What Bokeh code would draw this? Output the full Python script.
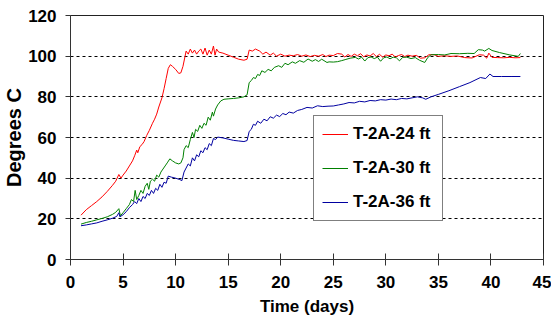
from bokeh.plotting import figure
from bokeh.models import Range1d, Legend, LegendItem
from bokeh.embed import file_html
from bokeh.resources import INLINE

red_day = [1.0, 1.5, 2.0, 2.5, 3.0, 3.5, 4.0, 4.3, 4.6, 4.8, 5.0, 5.3, 5.6, 5.9, 6.1, 6.3, 6.4, 6.6, 6.8, 7.0,
           7.25, 7.5, 7.8, 8.0, 8.2, 8.4, 8.7, 8.9, 9.1, 9.3, 9.5, 9.7, 10.0, 10.3, 10.5, 10.7, 10.9, 11.0, 11.2, 11.4,
           11.6, 11.8, 12.0, 12.2, 12.4, 12.6, 12.8, 13.0, 13.2, 13.4, 13.6, 13.75, 13.9, 14.1, 14.5, 15.0, 15.5, 16.0, 16.5, 16.8,
           17.0, 17.3, 17.6, 18.0, 18.3, 18.6, 19.0, 19.3, 19.6, 20.0, 20.4, 20.8, 21.2, 21.6, 22.0, 22.4, 22.8, 23.2, 23.6, 24.0,
           24.3, 24.6, 25.0, 25.4, 25.8, 26.1, 26.4, 26.7, 27.0, 27.3, 27.6, 27.9, 28.2, 28.5, 28.8, 29.1, 29.4, 29.7, 30.0, 30.3,
           30.6, 30.9, 31.2, 31.5, 31.8, 32.1, 32.5, 32.9, 33.3, 33.7, 34.1, 34.6, 35.0, 35.6, 36.2, 36.8, 37.5, 38.2, 38.9, 39.3,
           39.6, 39.8, 40.1, 40.6, 41.2, 41.8, 42.3, 42.8]
red_temp = [21.8, 24.5, 26.5, 28.5, 30.8, 33.5, 36.5, 38.5, 41.8, 40.0, 41.5, 43.5, 46.0, 48.5, 51.0, 53.8, 52.5, 55.5, 56.5, 58.0,
            61.0, 63.5, 67.0, 69.0, 71.5, 75.0, 79.5, 84.0, 89.0, 94.0, 95.8, 95.0, 93.5, 91.5, 91.8, 95.0, 100.0, 102.5, 101.0, 103.5,
            101.5, 103.0, 101.0, 102.5, 103.5, 101.0, 104.0, 100.5, 103.0, 101.0, 105.0, 100.5, 103.5, 102.0, 101.5, 100.5, 99.5, 98.5, 98.0, 98.5,
            103.0, 102.5, 103.5, 102.5, 101.0, 102.0, 100.5, 101.5, 100.0, 101.0, 100.0, 100.5, 100.2, 100.8, 100.0, 100.6, 99.8, 100.4, 100.0, 100.8,
            99.8, 100.5, 100.3, 101.3, 101.0, 99.6, 100.8, 99.9, 101.0, 100.2, 101.2, 99.7, 100.6, 100.1, 101.3, 99.8, 100.9, 99.5, 100.6, 100.2,
            101.0, 99.6, 100.3, 100.8, 99.8, 100.5, 100.0, 100.4, 99.0, 99.2, 100.7, 100.7, 99.9, 100.2, 99.9, 100.1, 99.3, 99.1, 100.7, 100.5,
            99.0, 101.5, 99.4, 99.3, 99.2, 99.4, 99.2, 99.3]

green_day = [1.0, 1.5, 2.0, 2.5, 3.0, 3.5, 4.0, 4.3, 4.6, 4.75, 5.0, 5.3, 5.6, 5.8, 6.0, 6.15, 6.3, 6.5, 6.7, 6.9,
             7.1, 7.3, 7.45, 7.6, 7.8, 8.0, 8.2, 8.4, 8.6, 8.8, 9.0, 9.2, 9.45, 9.7, 10.0, 10.3, 10.5, 10.7, 10.8, 11.0,
             11.2, 11.4, 11.6, 11.75, 11.9, 12.1, 12.3, 12.5, 12.7, 12.9, 13.1, 13.3, 13.5, 13.6, 13.8, 14.0, 14.3, 14.6, 15.0, 15.5,
             16.0, 16.5, 16.8, 17.0, 17.2, 17.4, 17.6, 17.8, 18.0, 18.2, 18.5, 18.8, 19.1, 19.4, 19.8, 20.1, 20.4, 20.7, 21.1, 21.4,
             21.8, 22.2, 22.6, 23.0, 23.3, 23.6, 23.9, 24.4, 24.6, 25.0, 25.4, 25.8, 26.2, 26.6, 27.1, 27.4, 27.7, 28.0, 28.3, 28.6,
             28.9, 29.2, 29.5, 29.8, 30.1, 30.4, 30.7, 31.0, 31.3, 31.6, 32.0, 32.4, 32.8, 33.2, 33.7, 34.0, 34.3, 35.0, 35.6, 36.2,
             37.0, 37.8, 38.4, 38.8, 39.2, 39.4, 39.8, 40.1, 40.8, 41.8, 42.6, 42.8]
green_temp = [17.4, 18.2, 18.8, 19.5, 20.2, 21.0, 22.2, 23.2, 25.0, 21.5, 23.0, 25.0, 27.0, 29.5, 28.5, 34.0, 29.5, 31.5, 34.0, 32.5,
              36.0, 37.5, 34.5, 38.5, 39.5, 38.5, 41.5, 40.5, 43.0, 44.5, 46.0, 47.5, 49.5, 48.5, 47.5, 47.0, 47.5, 50.0, 54.0, 56.0,
              55.0, 59.0, 62.5, 60.0, 64.0, 63.0, 66.0, 64.5, 67.0, 66.0, 70.0, 68.5, 72.5, 70.5, 74.0, 76.0, 78.0, 78.8, 79.0, 79.2,
              79.5, 80.0, 81.0, 87.0, 88.0, 89.5, 89.0, 91.0, 90.5, 92.8, 92.0, 93.5, 92.8, 94.5, 95.3, 94.5, 96.5, 95.8, 97.2, 96.5,
              97.8, 97.0, 98.6, 97.5, 98.3, 97.4, 98.5, 96.9, 97.2, 97.1, 97.3, 97.8, 98.4, 99.0, 99.4, 98.6, 99.5, 97.6, 99.3, 99.6,
              98.8, 99.5, 97.5, 99.2, 99.6, 98.7, 99.5, 99.2, 97.7, 99.4, 99.5, 98.8, 99.3, 98.0, 96.9, 99.4, 100.7, 100.8, 100.6, 101.3,
              101.2, 101.4, 101.3, 103.2, 103.0, 102.5, 103.8, 102.8, 101.8, 100.6, 99.9, 101.3]

blue_day = [1.0, 1.5, 2.0, 2.5, 3.0, 3.5, 4.0, 4.4, 4.6, 4.7, 5.0, 5.3, 5.6, 5.9, 6.1, 6.3, 6.5, 6.7, 6.9, 7.1,
            7.3, 7.5, 7.7, 7.9, 8.1, 8.3, 8.5, 8.7, 8.9, 9.1, 9.3, 9.6, 10.0, 10.4, 10.6, 10.8, 11.0, 11.2, 11.4, 11.6,
            11.8, 12.0, 12.2, 12.4, 12.6, 12.8, 13.0, 13.2, 13.4, 13.6, 13.8, 14.0, 14.5, 15.0, 15.5, 16.0, 16.5, 16.8, 17.0, 17.2,
            17.4, 17.6, 17.8, 18.1, 18.4, 18.7, 19.0, 19.3, 19.6, 19.9, 20.2, 20.5, 20.8, 21.2, 21.6, 22.0, 22.5, 23.0, 23.5, 24.0,
            24.5, 25.0, 25.5, 26.0, 26.5, 27.0, 27.5, 28.0, 28.5, 29.0, 29.5, 30.0, 30.5, 31.0, 31.5, 32.0, 32.5, 33.0, 33.5, 33.8,
            34.3, 35.0, 36.0, 37.0, 38.0, 39.0, 39.5, 39.9, 40.2, 41.0, 42.0, 42.8]
blue_temp = [16.6, 17.0, 17.5, 18.0, 18.8, 19.5, 20.3, 21.2, 23.0, 21.0, 22.0, 23.5, 25.5, 27.0, 28.5, 27.5, 30.0, 28.5, 31.0, 30.0,
             32.5, 31.5, 34.0, 32.5, 35.0, 34.0, 37.0, 35.5, 38.0, 37.5, 41.0, 40.5, 40.0, 39.3, 38.8, 43.0, 45.0, 47.0, 46.0, 50.0,
             48.5, 51.5, 50.5, 53.5, 52.5, 55.0, 54.0, 57.0, 56.0, 59.5, 59.0, 60.2, 59.8, 59.2, 58.6, 58.3, 58.0, 58.5, 63.0, 64.0,
             66.5, 66.0, 68.0, 67.0, 69.0, 68.2, 70.2, 69.5, 71.0, 70.3, 71.8, 71.2, 72.5, 72.0, 73.3, 73.8, 74.8, 74.5, 75.6, 75.2,
             75.4, 75.5, 76.0, 76.5, 77.2, 77.0, 77.8, 77.5, 78.2, 78.0, 78.6, 78.4, 78.9, 78.6, 79.2, 79.0, 79.5, 80.0, 79.5, 78.8,
             80.0, 81.2, 83.0, 85.0, 87.0, 89.5, 89.0, 91.2, 90.0, 90.0, 90.0, 90.0]

series_names = ["T-2A-24 ft", "T-2A-30 ft", "T-2A-36 ft"]
series_colors = ["#ff0000", "#008000", "#0000a0"]
x_ticks = [0, 5, 10, 15, 20, 25, 30, 35, 40, 45]
y_ticks = [0, 20, 40, 60, 80, 100, 120]

FONT = "Liberation Sans"

p = figure(width=551, height=323, output_backend="svg", toolbar_location=None,
           x_range=Range1d(0, 45), y_range=Range1d(0, 120),
           min_border_left=67, min_border_right=8, min_border_top=15, min_border_bottom=64)
p.background_fill_color = "white"
p.border_fill_color = "white"
p.outline_line_color = "#222222"
p.outline_line_width = 1

r1 = p.line(red_day, red_temp, line_color=series_colors[0], line_width=1)
r2 = p.line(green_day, green_temp, line_color=series_colors[1], line_width=1)
r3 = p.line(blue_day, blue_temp, line_color=series_colors[2], line_width=1)

p.xgrid.grid_line_color = None
p.ygrid.grid_line_color = "black"
p.ygrid.grid_line_dash = "3 3"
p.ygrid.grid_line_width = 1

p.xaxis.ticker = x_ticks
p.yaxis.ticker = y_ticks
for ax in (p.xaxis, p.yaxis):
    ax.axis_line_color = "#333333"
    ax.major_tick_line_color = "#333333"
    ax.minor_tick_line_color = None
    ax.major_label_text_font = FONT
    ax.major_label_text_font_style = "bold"
    ax.major_label_text_font_size = "17px"
    ax.major_label_text_color = "black"
    ax.axis_label_text_font = FONT
    ax.axis_label_text_font_style = "bold"
    ax.axis_label_text_color = "black"
p.xaxis.axis_label_text_font_size = "17px"
p.yaxis.axis_label_text_font_size = "20px"
p.xaxis.major_tick_in = 6
p.xaxis.major_tick_out = 6
p.yaxis.major_tick_in = 0
p.yaxis.major_tick_out = 5
p.xaxis.major_label_standoff = 10
p.yaxis.major_label_standoff = 9
p.xaxis.axis_label = "Time (days)"
p.yaxis.axis_label = "Degrees C"
p.xaxis.axis_label_standoff = 6
p.yaxis.axis_label_standoff = 0

legend = Legend(items=[LegendItem(label=series_names[0], renderers=[r1]),
                       LegendItem(label=series_names[1], renderers=[r2]),
                       LegendItem(label=series_names[2], renderers=[r3])],
                location=(243, 38))
legend.label_text_font = FONT
legend.label_text_font_style = "bold"
legend.label_text_font_size = "17px"
legend.label_text_color = "black"
legend.glyph_width = 26
legend.glyph_height = 20
legend.label_height = 20
legend.label_standoff = 5
legend.spacing = 14
legend.padding = 8
legend.margin = 0
legend.label_width = 81
legend.border_line_color = "black"
legend.border_line_width = 1
legend.background_fill_color = "white"
legend.background_fill_alpha = 1
p.add_layout(legend, "center")

open("out.html", "w").write(file_html(p, INLINE))
